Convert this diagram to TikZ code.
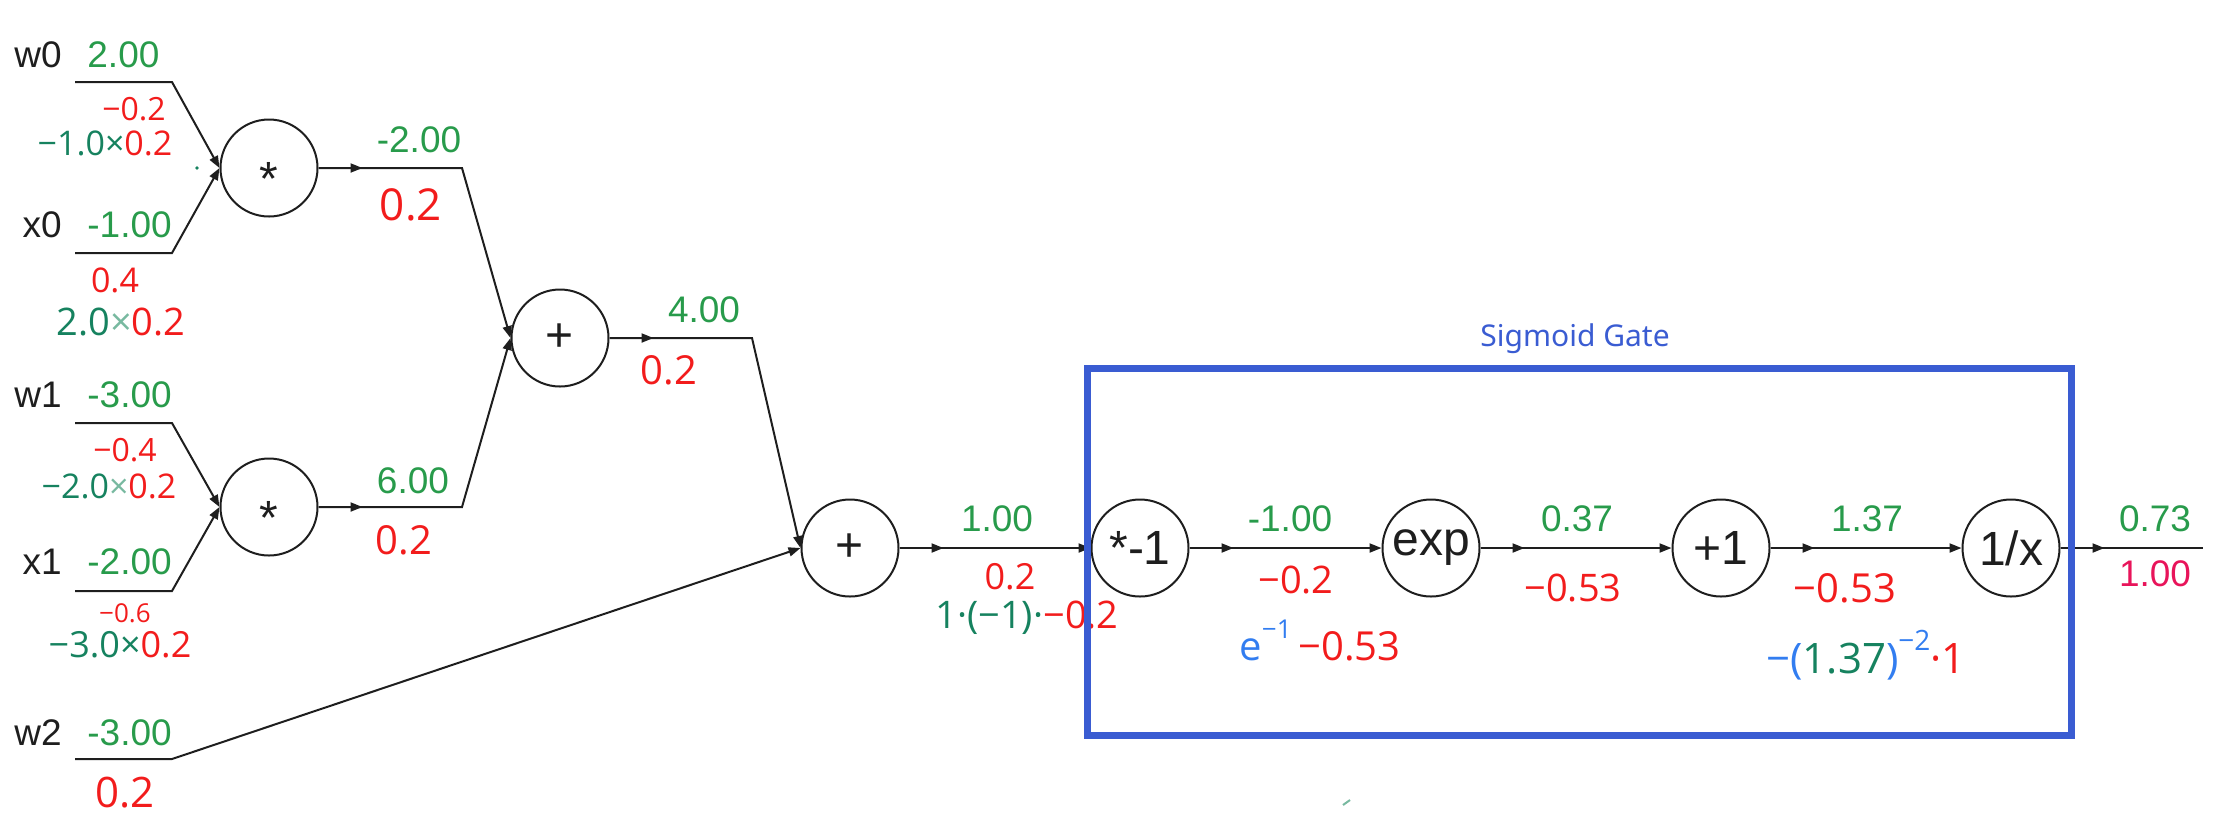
\documentclass[tikz,border=0pt]{standalone}
\usepackage{fontspec}
\setmainfont{Liberation Sans}
\newfontfamily\handfont{Open Sans}
\newfontfamily\gatefont{Noto Sans}
\usetikzlibrary{arrows.meta,decorations.markings}
\definecolor{valgreen}{RGB}{40,155,75}
\definecolor{hgreen}{RGB}{22,130,95}
\definecolor{hlgreen}{RGB}{120,185,160}
\definecolor{hred}{RGB}{242,28,28}
\definecolor{hblue}{RGB}{50,125,240}
\definecolor{boxblue}{RGB}{58,92,210}
\definecolor{outred}{RGB}{232,20,90}
\definecolor{ink}{RGB}{30,30,30}
\newcommand\mysup[2]{\raisebox{0.55em}{\fontsize{#1}{#1}\selectfont #2}}
\newcommand\gstar{\raisebox{-0.575em}[0pt][0pt]{*}}
\begin{document}
\begin{tikzpicture}[x=0.5pt,y=-0.5pt,
  gate/.style={circle,draw=ink,line width=1pt,minimum size=48.5pt,inner sep=0pt,
    font=\fontsize{24}{24}\selectfont,text=ink},
  val/.style={font=\fontsize{18.5}{20}\selectfont,text=valgreen,inner sep=0pt},
  var/.style={font=\fontsize{18.5}{20}\selectfont,text=ink,inner sep=0pt,anchor=east},
  wire/.style={draw=ink,line width=1pt},
  edge/.style={wire,-{Triangle[length=6pt,width=4.5pt]}},
  midarrow/.style={postaction={decorate},decoration={markings,
    mark=at position 22pt with {\arrow{Triangle[length=6pt,width=4.5pt]}}}},
  hw/.style={inner sep=0pt,text=hred,font=\handfont\fontsize{#1}{#1}\selectfont},
]
\useasboundingbox (0,0) rectangle (2231,832);

% gates
\node[gate] (m1) at (269,168) {\gstar};
\node[gate] (m2) at (269,507) {\gstar};
\node[gate] (p1) at (560,338) {+};
\node[gate] (p2) at (850,548) {+};
\node[gate] (n1) at (1140,548) {*-1};
\node[gate] (e1) at (1431,548) {exp};
\node[gate] (q1) at (1721,548) {+1};
\node[gate] (r1) at (2011,548) {1/x};

% wire corners
\coordinate (w0a) at (75,82);  \coordinate (w0b) at (172,82);
\coordinate (x0a) at (75,253); \coordinate (x0b) at (172,253);
\coordinate (w1a) at (75,423); \coordinate (w1b) at (172,423);
\coordinate (x1a) at (75,591); \coordinate (x1b) at (172,591);
\coordinate (w2a) at (75,759); \coordinate (w2b) at (172,759);
\coordinate (c1) at (462,168);
\coordinate (c2) at (462,507);
\coordinate (c3) at (752,338);
\coordinate (out) at (2203,548);

% connectors
\draw[edge] (w0a) -- (w0b) -- (m1.west);
\draw[edge] (x0a) -- (x0b) -- (m1.west);
\draw[edge] (w1a) -- (w1b) -- (m2.west);
\draw[edge] (x1a) -- (x1b) -- (m2.west);
\draw[edge] (w2a) -- (w2b) -- (p2.west);
\draw[edge,midarrow] (m1.east) -- (c1) -- (p1.west);
\draw[edge,midarrow] (m2.east) -- (c2) -- (p1.west);
\draw[edge,midarrow] (p1.east) -- (c3) -- (p2.west);
\draw[edge,midarrow] (p2) -- (n1);
\draw[edge,midarrow] (n1) -- (e1);
\draw[edge,midarrow] (e1) -- (q1);
\draw[edge,midarrow] (q1) -- (r1);
\draw[wire,midarrow] (r1) -- (out);

% variable names and values
\node[var] (lw0) at (62,55) {w0};
\node[var] (lx0) at (62,225) {x0};
\node[var] (lw1) at (62,395) {w1};
\node[var] (lx1) at (62,562) {x1};
\node[var] (lw2) at (62,733) {w2};
\node[val,anchor=west] (vw0) at (87,55) {2.00};
\node[val,anchor=west] (vx0) at (87,225) {-1.00};
\node[val,anchor=west] (vw1) at (87,395) {-3.00};
\node[val,anchor=west] (vx1) at (87,562) {-2.00};
\node[val,anchor=west] (vw2) at (87,733) {-3.00};
\node[val] (vm1) at (419,140) {-2.00};
\node[val] (vm2) at (413,481) {6.00};
\node[val] (vp1) at (704,310) {4.00};
\node[val] (vp2) at (997,519) {1.00};
\node[val] (vn1) at (1290,519) {-1.00};
\node[val] (ve1) at (1577,519) {0.37};
\node[val] (vq1) at (1867,519) {1.37};
\node[val] (vr1) at (2155,519) {0.73};
\node[val,text=outred] (gr1) at (2155,574) {1.00};

% handwritten gradients
\node[hw=16] (gw0) at (134,109) {−0.2};
\node[hw=17] (fw0) at (105,143) {\textcolor{hgreen}{−1.0×}0.2};
\node[hw=17] (gx0) at (115,280) {0.4};
\node[hw=19] (fx0) at (121,322) {\textcolor{hgreen}{2.0}\textcolor{hlgreen}{×}0.2};
\node[hw=22] (gm1) at (411,205) {0.2};
\node[hw=16] (gw1) at (125,450) {−0.4};
\node[hw=17] (fw1) at (109,486) {\textcolor{hgreen}{−2.0}\textcolor{hlgreen}{×}0.2};
\node[hw=20] (gm2) at (404,540) {0.2};
\node[hw=13] (gx1) at (125,613) {−0.6};
\node[hw=18] (fx1) at (120,645) {\textcolor{hgreen}{−3.0×}0.2};
\node[hw=21] (gw2) at (125,793) {0.2};
\node[hw=20] (gp1) at (669,370) {0.2};
\node[hw=18] (gp2) at (1010,577) {0.2};
\node[hw=19] (fp2) at (1027,618) {\textcolor{hgreen}{1·(−1)·}−0.2};
\node[hw=19] (gn1) at (1296,580) {−0.2};
\node[hw=20] (fn1) at (1320,640) {\textcolor{hblue}{e\mysup{13}{−1}}\,−0.53};
\node[hw=19] (ge1) at (1573,588) {−0.53};
\node[hw=20] (gq1) at (1845,588) {−0.53};
\node[hw=21] (fq1) at (1866,655) {\textcolor{hblue}{−(}\textcolor{hgreen}{1.37}\textcolor{hblue}{)\mysup{14}{−2}}·1};

% specks
\fill[hgreen] (197,168) circle (0.9pt);
\draw[hlgreen,line width=1pt] (1343,805) -- (1350,800);

% sigmoid gate box
\node[draw=boxblue,line width=3.5pt,rectangle,inner sep=0pt,
  minimum width=491.75pt,minimum height=183.5pt] (gatebox) at (1579.25,551.5) {};
\node[anchor=base west,inner sep=0pt,text=boxblue,font=\gatefont\fontsize{15}{16}\selectfont]
  (gatelabel) at (1480,346) {Sigmoid Gate};
\end{tikzpicture}
\end{document}
